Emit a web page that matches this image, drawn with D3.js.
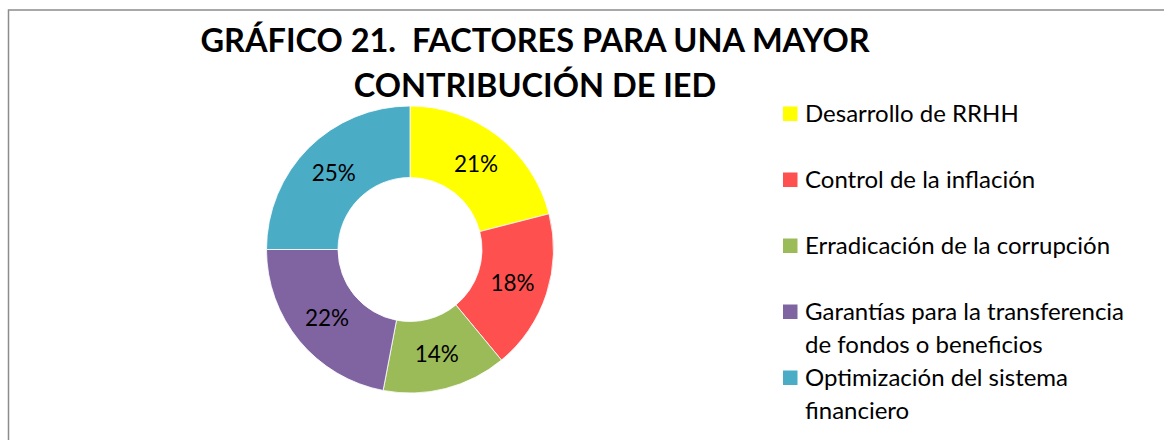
<!DOCTYPE html>
<html>
<head>
<meta charset="utf-8">
<script src="https://cdn.jsdelivr.net/npm/d3@7"></script>
<style>
  body { margin: 0; background: #fff; }
  text { font-family: Lato, "Open Sans", sans-serif; }
</style>
</head>
<body>
<svg id="chart"></svg>
<script>
// chart data
const categories = [
  "Desarrollo de RRHH",
  "Control de la inflación",
  "Erradicación de la corrupción",
  "Garantías para la transferencia de fondos o beneficios",
  "Optimización del sistema financiero"
];
const values = [21, 18, 14, 22, 25];
const colors = ["#FFFF00", "#FF5050", "#9BBB59", "#8064A2", "#4BACC6"];
const titleLines = ["GRÁFICO 21.  FACTORES PARA UNA MAYOR", "CONTRIBUCIÓN DE IED"];

const width = 1164, height = 440;
const cx = 410, cy = 249.5;
const outerR = 143.5, innerR = 72;

const svg = d3.select("#chart")
  .attr("width", width)
  .attr("height", height);

// frame (only top and left edges fall inside the window)
svg.append("rect")
  .attr("x", 8.5).attr("y", 10)
  .attr("width", 1300).attr("height", 600)
  .attr("fill", "none")
  .attr("stroke", "#8c8c8c")
  .attr("stroke-width", 1.5);

const data = categories.map((c, i) => ({ name: c, value: values[i], color: colors[i] }));

const pie = d3.pie().sort(null).value(d => d.value);
const arc = d3.arc().innerRadius(innerR).outerRadius(outerR);
const labelArc = d3.arc().innerRadius((innerR + outerR) / 2).outerRadius((innerR + outerR) / 2);

const g = svg.append("g").attr("transform", `translate(${cx},${cy})`);

g.selectAll("path")
  .data(pie(data))
  .join("path")
  .attr("d", arc)
  .attr("fill", d => d.data.color)
  .attr("stroke", "#fff")
  .attr("stroke-width", 0.8);

const total = d3.sum(values);
g.selectAll("text.pct")
  .data(pie(data))
  .join("text")
  .attr("class", "pct")
  .attr("transform", d => `translate(${labelArc.centroid(d)})`)
  .attr("text-anchor", "middle")
  .attr("dy", "0.36em")
  .attr("font-size", 22.5)
  .attr("fill", "#000")
  .text(d => d3.format(".0%")(d.data.value / total));

// title
svg.append("g")
  .selectAll("text")
  .data(titleLines)
  .join("text")
  .attr("x", 535)
  .attr("y", (d, i) => 52 + i * 45)
  .attr("text-anchor", "middle")
  .attr("font-size", 32.5)
  .attr("font-weight", "bold")
  .attr("fill", "#000")
  .style("white-space", "pre")
  .text(d => d);

// legend
const legendX = 783, legendY = 121.5, rowStep = 66, lineStep = 33, maxW = 345;
const legend = svg.append("g")
  .selectAll("g")
  .data(data)
  .join("g")
  .attr("transform", (d, i) => `translate(${legendX},${legendY + i * rowStep})`);

legend.append("rect")
  .attr("x", 0).attr("y", -15)
  .attr("width", 14.5).attr("height", 14.5)
  .attr("fill", d => d.color);

legend.append("text")
  .attr("x", 22)
  .attr("y", 0)
  .attr("font-size", 24)
  .attr("fill", "#000")
  .each(function(d) {
    const t = d3.select(this);
    const words = d.name.split(" ");
    let line = [];
    let tspan = t.append("tspan").attr("x", 22).attr("dy", 0);
    words.forEach(w => {
      line.push(w);
      tspan.text(line.join(" "));
      if (tspan.node().getComputedTextLength() > maxW && line.length > 1) {
        line.pop();
        tspan.text(line.join(" "));
        line = [w];
        tspan = t.append("tspan").attr("x", 22).attr("dy", lineStep).text(w);
      }
    });
  });
</script>
</body>
</html>
